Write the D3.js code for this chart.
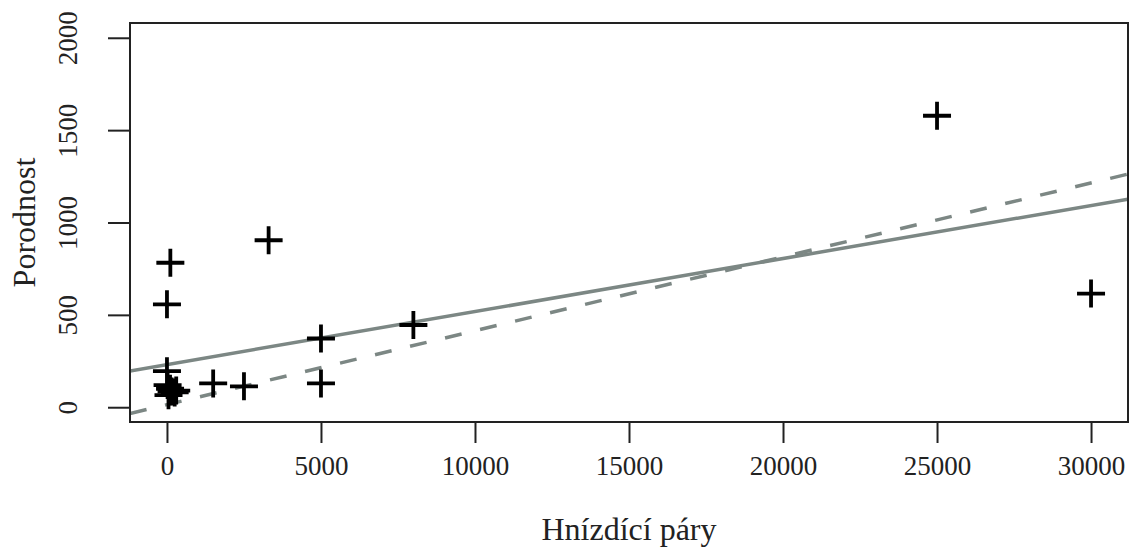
<!DOCTYPE html>
<html>
<head>
<meta charset="utf-8">
<script src="https://cdn.jsdelivr.net/npm/d3@7"></script>
<style>
    body { margin: 0; background: #fff; }
    text { font-family: "Liberation Serif", "DejaVu Serif", serif; fill: #222; }
</style>
</head>
<body>
<div class="chart"></div>
<script>
// ---- data ----
var hnizdiciPary = [0, 110, 0, 20, 100, 150, 250, 300, 50, 1500, 2500, 3300, 5000, 5000, 8000, 25000, 30000];
var porodnost    = [557, 782, 195, 120, 100, 85, 80, 90, 65, 129, 113, 904, 372, 129, 445, 1578, 615];

var xTicks = [0, 5000, 10000, 15000, 20000, 25000, 30000];
var yTicks = [0, 500, 1000, 1500, 2000];

// two fitted lines: solid, dashed
var lineIntercepts = [231, 14];
var lineSlopes     = [0.0287, 0.040];
var lineDashes     = [null, "17,19"];

var xTitle = "Hnízdící páry";
var yTitle = "Porodnost";

// ==================================

var w = 1129;
var h = 547;
var box = { left: 130, right: 1128, top: 23, bottom: 422 };

var x = d3.scaleLinear()
    .domain([-1200, 31200])
    .range([box.left, box.right]);

var y = d3.scaleLinear()
    .domain([-80, 2080])
    .range([box.bottom, box.top]);

var svg = d3.select(".chart")
    .append("svg")
    .attr("width", w)
    .attr("height", h);

svg.append("clipPath")
    .attr("id", "plotclip")
    .append("rect")
    .attr("x", box.left)
    .attr("y", box.top)
    .attr("width", box.right - box.left)
    .attr("height", box.bottom - box.top);

// fitted lines
var xs = x.domain();
svg.append("g")
    .attr("clip-path", "url(#plotclip)")
    .selectAll("line")
    .data(lineIntercepts)
    .enter()
    .append("line")
    .attr("x1", x(xs[0]))
    .attr("x2", x(xs[1]))
    .attr("y1", function(d, i) { return y(d + lineSlopes[i] * xs[0]); })
    .attr("y2", function(d, i) { return y(d + lineSlopes[i] * xs[1]); })
    .attr("stroke", "#7c8784")
    .attr("stroke-width", 3.5)
    .attr("stroke-dasharray", function(d, i) { return lineDashes[i]; });

// points (pch = 3)
var half = 14;
svg.append("g")
    .selectAll("path")
    .data(hnizdiciPary)
    .enter()
    .append("path")
    .attr("d", function(d, i) {
        var px = x(d), py = y(porodnost[i]);
        return "M" + (px - half) + "," + py + "H" + (px + half) +
            "M" + px + "," + (py - half) + "V" + (py + half);
    })
    .attr("stroke", "#000")
    .attr("stroke-width", 3.8)
    .attr("fill", "none");

// box
svg.append("rect")
    .attr("x", box.left)
    .attr("y", box.top)
    .attr("width", box.right - box.left)
    .attr("height", box.bottom - box.top)
    .attr("fill", "none")
    .attr("stroke", "#222")
    .attr("stroke-width", 2);

// axes
var xAxis = svg.append("g")
    .attr("transform", "translate(0," + box.bottom + ")")
    .call(d3.axisBottom(x).tickValues(xTicks).tickSize(21).tickPadding(0).tickFormat(d3.format("d")));
xAxis.select(".domain").remove();
xAxis.selectAll(".tick line").attr("stroke", "#222").attr("stroke-width", 2);
xAxis.selectAll(".tick text")
    .attr("y", 44)
    .attr("dy", "0.35em")
    .attr("font-size", 27)
    .attr("fill", "#222");

var yAxis = svg.append("g")
    .attr("transform", "translate(" + box.left + ",0)")
    .call(d3.axisLeft(y).tickValues(yTicks).tickSize(22).tickPadding(0).tickFormat(d3.format("d")));
yAxis.select(".domain").remove();
yAxis.selectAll(".tick line").attr("stroke", "#222").attr("stroke-width", 2);
yAxis.selectAll(".tick text")
    .attr("x", 0)
    .attr("dy", null)
    .attr("text-anchor", "middle")
    .attr("dominant-baseline", "central")
    .attr("transform", "translate(-62,0) rotate(-90)")
    .attr("font-size", 27)
    .attr("fill", "#222");

svg.append("text")
    .attr("x", (box.left + box.right) / 2)
    .attr("y", 529)
    .attr("dy", "0.35em")
    .attr("text-anchor", "middle")
    .attr("font-size", 32)
    .text(xTitle);

svg.append("text")
    .attr("transform", "translate(24," + ((box.top + box.bottom) / 2) + ") rotate(-90)")
    .attr("dy", "0.35em")
    .attr("text-anchor", "middle")
    .attr("font-size", 32)
    .text(yTitle);
</script>
</body>
</html>
